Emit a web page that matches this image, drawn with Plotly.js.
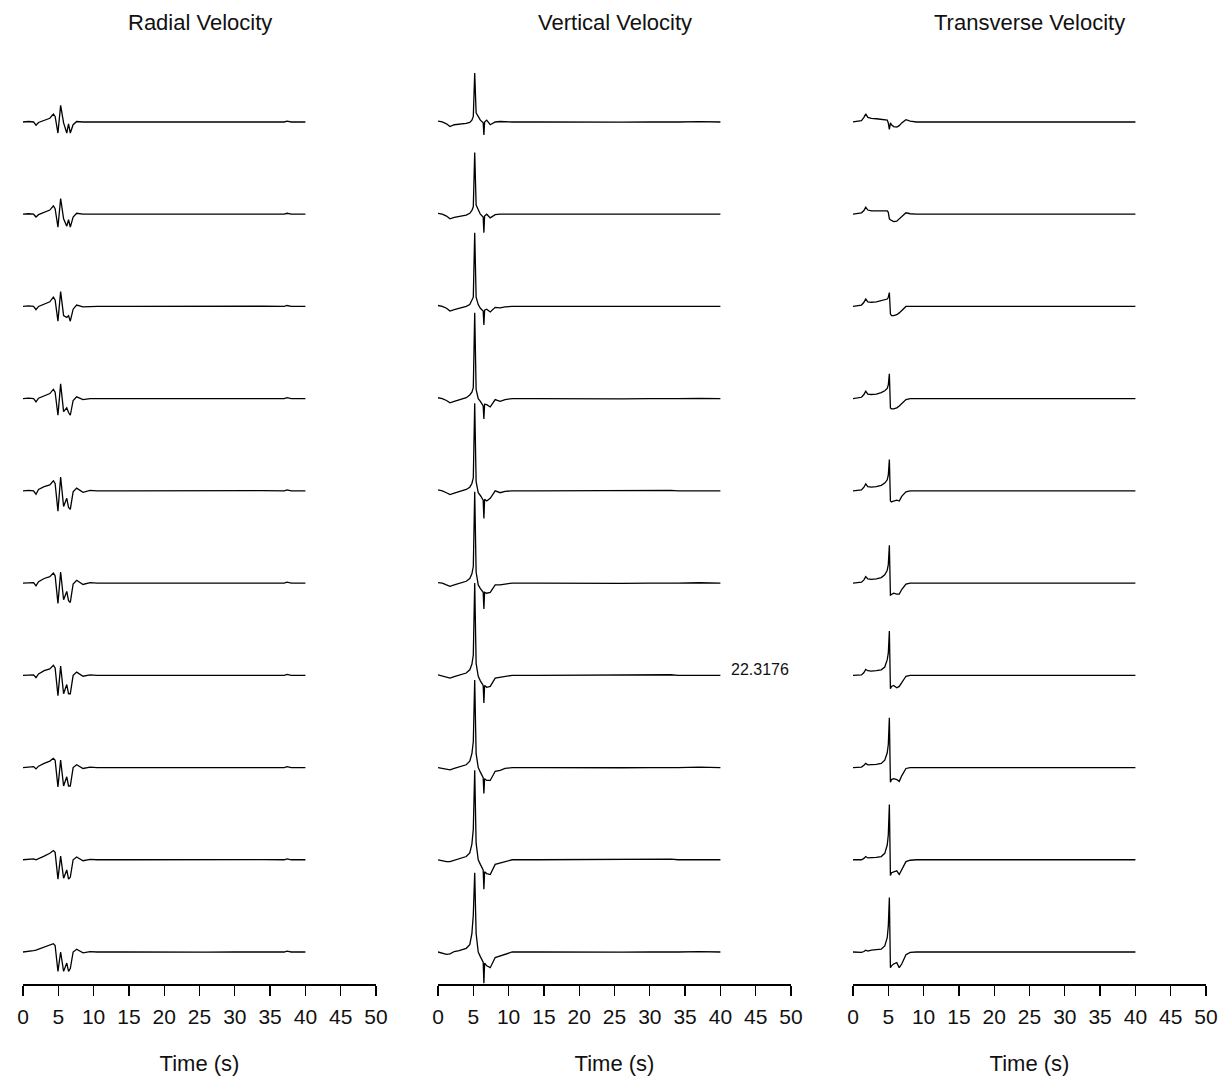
<!DOCTYPE html>
<html>
<head>
<meta charset="utf-8">
<script src="https://cdn.plot.ly/plotly-3.0.1.min.js"></script>
<style>html,body{margin:0;padding:0;background:#fff}#chart{width:1220px;height:1077px}</style>
</head>
<body>
<div id="chart"></div>
<script>
// ---------- DATA ----------
const panelTitles = ["Radial Velocity", "Vertical Velocity", "Transverse Velocity"];
const xTickVals = [0, 5, 10, 15, 20, 25, 30, 35, 40, 45, 50];
const xAxisLabel = "Time (s)";
const maxLabel = "22.3176";

// Radial velocity (traces top -> bottom, amplitude in trace-spacing units)
const radialTime = [0, 0.8, 1.5, 1.84, 2.2, 3.0, 3.8, 4.3, 4.55, 4.95, 5.33, 5.75, 6.2, 6.45, 6.7, 7.1, 7.6, 8.5, 9.5];
const radialTailTime = [10.5, 14, 18, 22, 26, 30, 34, 37, 37.4, 38, 40];
const radialTail = [0, 0, 0.002, 0, -0.002, 0, 0.002, 0, 0.01, 0, 0];
const radial1 = [0, 0.005, 0, -0.035, -0.005, 0.02, 0.04, 0.085, 0.06, -0.12, 0.18, -0.01, -0.12, -0.02, -0.12, -0.03, 0.005, 0, 0];
const radial2 = [0, 0.005, 0, -0.03, -0.005, 0.02, 0.045, 0.09, 0.06, -0.14, 0.17, -0.05, -0.13, -0.06, -0.14, -0.03, 0.01, 0, 0];
const radial3 = [0, 0.005, 0, -0.035, 0, 0.025, 0.05, 0.1, 0.07, -0.16, 0.16, -0.1, -0.12, -0.1, -0.16, -0.03, 0.015, -0.005, 0];
const radial4 = [0, 0.005, 0, -0.035, 0.005, 0.03, 0.055, 0.1, 0.07, -0.18, 0.16, -0.14, -0.1, -0.15, -0.18, -0.02, 0.02, -0.01, 0];
const radial5 = [0, 0.005, 0, -0.036, 0.015, 0.045, 0.065, 0.11, 0.08, -0.22, 0.15, -0.17, -0.08, -0.18, -0.2, -0.01, 0.03, -0.015, 0.005];
const radial6 = [0, 0.005, 0.005, -0.03, 0.015, 0.05, 0.07, 0.11, 0.08, -0.22, 0.12, -0.18, -0.09, -0.19, -0.21, -0.01, 0.03, -0.015, 0.005];
const radial7 = [0, 0.005, 0.005, -0.025, 0.015, 0.05, 0.07, 0.11, 0.08, -0.22, 0.1, -0.2, -0.1, -0.2, -0.2, 0, 0.035, -0.01, 0.005];
const radial8 = [0, 0.005, 0.01, -0.015, 0.015, 0.045, 0.07, 0.1, 0.08, -0.21, 0.08, -0.2, -0.1, -0.2, -0.2, 0, 0.03, -0.01, 0.005];
const radial9 = [0, 0.005, 0.01, 0, 0.015, 0.04, 0.07, 0.1, 0.08, -0.21, 0.04, -0.2, -0.11, -0.21, -0.19, 0, 0.03, -0.01, 0.005];
const radial10 = [0, 0.005, 0.014, 0.02, 0.03, 0.05, 0.08, 0.09, 0.07, -0.21, 0.0, -0.21, -0.12, -0.21, -0.18, 0, 0.03, -0.01, 0.005];

// Vertical velocity
const verticalTime = [0, 0.6, 1.2, 1.7, 2.3, 3.0, 4.0, 4.5, 4.8, 5.0, 5.2, 5.4, 5.7, 6.0, 6.4, 6.5, 6.6, 6.9, 7.4, 8.1, 8.8, 9.5];
const verticalTailTime = [10.5, 14, 18, 22, 26, 30, 33, 34, 37, 38, 40];
const verticalTail = [0, 0, 0.002, 0, -0.002, 0, 0.006, 0, 0.004, 0, 0];
const vertical1 = [0.01, 0.0, -0.02, -0.05, -0.03, -0.025, -0.015, -0.005, 0.02, 0.06, 0.53, 0.1, 0.06, 0.02, -0.01, -0.14, 0.0, 0.02, -0.03, 0.0, 0.005, 0];
const vertical2 = [0.01, 0.0, -0.02, -0.05, -0.035, -0.025, -0.01, 0.01, 0.04, 0.08, 0.67, 0.1, 0.04, 0.0, -0.03, -0.2, -0.02, 0.0, -0.04, -0.005, 0.0, 0];
const vertical3 = [0.01, 0.0, -0.02, -0.05, -0.035, -0.02, 0.0, 0.02, 0.06, 0.1, 0.8, 0.1, 0.02, -0.02, -0.05, -0.2, -0.04, -0.03, -0.06, -0.01, -0.015, -0.005];
const vertical4 = [0.01, 0.0, -0.02, -0.045, -0.03, -0.015, 0.01, 0.04, 0.07, 0.12, 0.93, 0.1, 0.0, -0.03, -0.08, -0.22, -0.06, -0.065, -0.09, -0.01, -0.03, -0.01];
const vertical5 = [0.01, 0.0, -0.02, -0.04, -0.025, -0.01, 0.015, 0.04, 0.08, 0.14, 0.95, 0.1, -0.02, -0.05, -0.1, -0.3, -0.09, -0.11, -0.08, 0.0, -0.02, -0.005];
const vertical6 = [0.005, 0.0, -0.02, -0.035, -0.02, -0.005, 0.02, 0.05, 0.1, 0.18, 0.99, 0.12, -0.02, -0.06, -0.1, -0.28, -0.1, -0.11, -0.1, -0.02, -0.02, -0.01];
const vertical7 = [0.005, -0.005, -0.02, -0.03, -0.015, 0.0, 0.025, 0.06, 0.12, 0.22, 1.0, 0.13, -0.01, -0.06, -0.11, -0.3, -0.11, -0.13, -0.12, -0.03, -0.02, -0.01];
const vertical8 = [0.0, -0.01, -0.02, -0.025, -0.01, 0.005, 0.03, 0.07, 0.15, 0.28, 0.95, 0.15, 0.0, -0.05, -0.11, -0.28, -0.12, -0.14, -0.14, -0.04, -0.03, -0.01];
const vertical9 = [0.0, -0.01, -0.02, -0.02, -0.005, 0.01, 0.035, 0.075, 0.17, 0.33, 0.97, 0.18, 0.0, -0.05, -0.11, -0.32, -0.13, -0.15, -0.16, -0.05, -0.035, -0.015];
const vertical10 = [0.0, -0.01, -0.025, -0.02, 0.005, 0.015, 0.04, 0.08, 0.2, 0.4, 0.86, 0.2, 0.0, -0.05, -0.11, -0.34, -0.12, -0.15, -0.17, -0.06, -0.04, -0.02];

// Transverse velocity
const transverseTime = [0, 0.6, 1.2, 1.55, 1.8, 2.1, 2.6, 3.3, 4.0, 4.5, 4.85, 5.0, 5.15, 5.3, 5.45, 5.75, 6.2, 6.55, 6.9, 7.5, 8.1, 9.0];
const transverseTailTime = [10.5, 14, 18, 22, 26, 30, 34, 35, 37, 38, 40];
const transverseTail = [0, 0, 0.002, 0, -0.002, 0, 0, 0.004, 0, 0, 0];
const transverse1 = [0, 0.005, 0.015, 0.05, 0.087, 0.05, 0.04, 0.035, 0.03, 0.025, 0.02, -0.01, -0.08, -0.01, -0.03, -0.05, -0.055, -0.04, -0.01, 0.025, 0.01, 0.0];
const transverse2 = [0, 0.005, 0.015, 0.04, 0.075, 0.045, 0.035, 0.035, 0.035, 0.035, 0.035, 0.02, -0.05, -0.06, -0.07, -0.08, -0.075, -0.05, -0.02, 0.015, 0.005, 0];
const transverse3 = [0, 0.005, 0.015, 0.045, 0.08, 0.05, 0.045, 0.05, 0.06, 0.07, 0.08, 0.1, 0.15, -0.08, -0.1, -0.1, -0.09, -0.07, -0.04, 0.0, 0.0, 0];
const transverse4 = [0, 0.005, 0.015, 0.045, 0.08, 0.05, 0.045, 0.05, 0.065, 0.085, 0.11, 0.15, 0.27, -0.1, -0.11, -0.11, -0.1, -0.08, -0.05, -0.01, 0, 0];
const transverse5 = [0, 0.005, 0.01, 0.04, 0.075, 0.045, 0.04, 0.045, 0.06, 0.085, 0.12, 0.17, 0.34, -0.11, -0.12, -0.11, -0.1, -0.11, -0.06, -0.01, 0, 0];
const transverse6 = [0, 0.005, 0.01, 0.035, 0.07, 0.045, 0.04, 0.045, 0.06, 0.09, 0.14, 0.2, 0.41, -0.13, -0.12, -0.11, -0.12, -0.12, -0.07, -0.01, 0, 0];
const transverse7 = [0, 0.0, 0.005, 0.03, 0.065, 0.05, 0.045, 0.05, 0.06, 0.09, 0.17, 0.24, 0.48, -0.145, -0.12, -0.11, -0.135, -0.12, -0.08, -0.01, 0, 0];
const transverse8 = [0, 0.0, 0.005, 0.025, 0.045, 0.03, 0.03, 0.035, 0.045, 0.08, 0.16, 0.25, 0.54, -0.16, -0.13, -0.12, -0.13, -0.15, -0.09, -0.01, 0, 0];
const transverse9 = [0, 0.0, 0.0, 0.015, 0.035, 0.02, 0.02, 0.025, 0.035, 0.07, 0.16, 0.27, 0.6, -0.17, -0.14, -0.13, -0.12, -0.16, -0.11, -0.02, -0.005, 0];
const transverse10 = [0, -0.005, -0.005, 0.005, 0.02, 0.01, 0.02, 0.025, 0.03, 0.065, 0.155, 0.28, 0.59, -0.17, -0.15, -0.13, -0.115, -0.17, -0.13, -0.03, -0.005, 0];

// ---------- BUILD ----------
const W = 1220, H = 1077;
const panels = [
  {time: radialTime, tailTime: radialTailTime, tail: radialTail,
   traces: [radial1, radial2, radial3, radial4, radial5, radial6, radial7, radial8, radial9, radial10], ax: 'x', px: [23, 376]},
  {time: verticalTime, tailTime: verticalTailTime, tail: verticalTail,
   traces: [vertical1, vertical2, vertical3, vertical4, vertical5, vertical6, vertical7, vertical8, vertical9, vertical10], ax: 'x2', px: [438, 791]},
  {time: transverseTime, tailTime: transverseTailTime, tail: transverseTail,
   traces: [transverse1, transverse2, transverse3, transverse4, transverse5, transverse6, transverse7, transverse8, transverse9, transverse10], ax: 'x3', px: [853, 1206]}
];

const data = [];
panels.forEach(p => {
  const n = p.traces.length;
  p.traces.forEach((vals, k) => {
    const offset = n - 1 - k;
    const xs = p.time.concat(p.tailTime);
    const ys = vals.concat(p.tail).map(v => v + offset);
    data.push({x: xs, y: ys, xaxis: p.ax, yaxis: 'y', type: 'scatter', mode: 'lines',
      line: {color: '#000', width: 1.3}, hoverinfo: 'skip', showlegend: false});
  });
});

const font = 'Liberation Sans, Arial, Helvetica, sans-serif';
function xaxisDef(p) {
  return {
    domain: [p.px[0] / W, p.px[1] / W], range: [0, 50], anchor: 'y',
    showgrid: false, zeroline: false, showline: true, linecolor: '#000', linewidth: 2,
    ticks: 'outside', ticklen: 10, tickwidth: 1.3, tickcolor: '#000',
    tickmode: 'array', tickvals: xTickVals, ticktext: xTickVals.map(String),
    tickfont: {family: font, size: 21, color: '#111'}, ticklabelstandoff: 3,
    title: {text: xAxisLabel, font: {family: font, size: 22, color: '#111'}, standoff: 28},
    fixedrange: true
  };
}

const layout = {
  width: W, height: H,
  margin: {l: 0, r: 0, t: 60, b: 93},
  paper_bgcolor: '#fff', plot_bgcolor: '#fff',
  showlegend: false,
  xaxis: xaxisDef(panels[0]),
  xaxis2: xaxisDef(panels[1]),
  xaxis3: xaxisDef(panels[2]),
  yaxis: {range: [-0.347, 9.672], visible: false, showgrid: false, zeroline: false, fixedrange: true},
  annotations: panelTitles.map((t, i) => ({
    text: t, xref: 'paper', yref: 'paper',
    x: ((panels[i].px[0] + panels[i].px[1]) / 2) / W, y: (984 - 22) / 924,
    xanchor: 'center', yanchor: 'middle', showarrow: false,
    font: {family: font, size: 22, color: '#111'}
  })).concat([{
    text: maxLabel, xref: 'x2', yref: 'y', x: 41.2, y: 3.065,
    xanchor: 'left', yanchor: 'middle', showarrow: false,
    font: {family: font, size: 16, color: '#111'}
  }])
};

Plotly.newPlot('chart', data, layout, {staticPlot: true, displayModeBar: false});
</script>
</body>
</html>
